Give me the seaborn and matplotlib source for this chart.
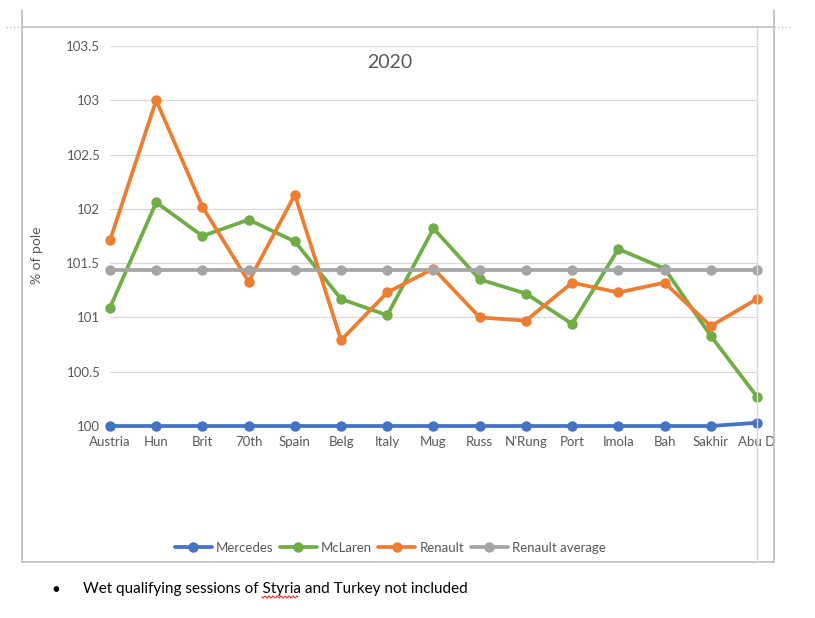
import matplotlib
matplotlib.use("Agg")
import matplotlib.pyplot as plt
import seaborn as sns
import pandas as pd
import numpy as np
from matplotlib.lines import Line2D

races = ["Austria", "Hun", "Brit", "70th", "Spain", "Belg", "Italy", "Mug",
         "Russ", "N'Rung", "Port", "Imola", "Bah", "Sakhir", "Abu D"]
mercedes = [100, 100, 100, 100, 100, 100, 100, 100, 100, 100, 100, 100, 100, 100, 100.03]
mclaren = [101.09, 102.06, 101.75, 101.90, 101.70, 101.17, 101.02, 101.82,
           101.35, 101.22, 100.94, 101.63, 101.45, 100.83, 100.27]
renault = [101.71, 103.00, 102.02, 101.33, 102.13, 100.79, 101.23, 101.45,
           101.00, 100.97, 101.32, 101.23, 101.32, 100.92, 101.17]
renault_avg = [101.44] * 15
series_names = ["Mercedes", "McLaren", "Renault", "Renault average"]
yticks = [100, 100.5, 101, 101.5, 102, 102.5, 103, 103.5]

colors = ["#4472C4", "#70AD47", "#ED7D31", "#A5A5A5"]

rows = []
for name, vals in zip(series_names, [mercedes, mclaren, renault, renault_avg]):
    for i, v in enumerate(vals):
        rows.append({"pos": i, "race": races[i], "team": name, "value": v})
df = pd.DataFrame(rows)

sns.set_theme(style="white")
plt.rcParams['font.family'] = ['Lato', 'DejaVu Sans']

fig = plt.figure(figsize=(8.15, 6.18), dpi=100)
ax = fig.add_axes([110/815, 1-426/618, (757-110)/815, (426-46)/618])

sns.lineplot(data=df, x="pos", y="value", hue="team", hue_order=series_names,
             palette=colors, marker="o", markersize=7.5, markeredgewidth=0,
             linewidth=2.7, ax=ax, legend=False, clip_on=False)

ax.set_xlim(0, 14)
ax.set_ylim(100, 103.5)
ax.set_yticks(yticks)
ax.set_yticklabels([f"{t:g}" for t in yticks])
ax.set_xticks(range(len(races)))
ax.set_xticklabels(races)
ax.tick_params(axis="both", length=0, labelsize=9.5, labelcolor="#595959")
ax.tick_params(axis="y", pad=7)
ax.tick_params(axis="x", pad=7)
ax.grid(axis="y", color="#D9D9D9", linewidth=0.9)
ax.set_axisbelow(True)
for s in ax.spines.values():
    s.set_visible(False)
ax.set_xlabel("")
ax.set_ylabel("% of pole", fontsize=10, color="#595959")
ax.yaxis.set_label_coords(-(110-43)/647, (426-255)/380)

fig.text(390/815, 1-62/618, "2020", fontsize=14, color="#595959", ha="center", va="center")

handles = [Line2D([0], [0], color=c, lw=2.7, marker="o", markersize=7.5, markeredgewidth=0)
           for c in colors]
leg = fig.legend(handles, series_names, loc="center", bbox_to_anchor=(390/815, 1-548/618),
                 ncol=4, frameon=False, fontsize=9.5, handlelength=2.8, columnspacing=0.5,
                 handletextpad=0.3)
for t in leg.get_texts():
    t.set_color("#595959")

# chart frame and page lines
def fline(xs, ys, color="#BFBFBF", lw=1.2, ls="-"):
    fig.add_artist(Line2D([x/815 for x in xs], [1-y/618 for y in ys],
                          color=color, lw=lw, ls=ls, transform=fig.transFigure))

fline([22, 774], [27, 27])
fline([22, 22], [10, 562])
fline([774, 774], [10, 562])
fline([22, 774], [562, 562])
fline([757, 757], [28, 562], color="#D9D9D9", lw=1.0)
fline([6, 22], [27, 27], color="#BFBFBF", lw=1.0, ls=":")
fline([774, 790], [27, 27], color="#BFBFBF", lw=1.0, ls=":")

fig.text(56/815, 1-590/618, "\u2022", fontsize=11, color="black", ha="center", va="center")
fig.text(83/815, 1-589/618, "Wet qualifying sessions of Styria and Turkey not included",
         fontsize=11, color="black", ha="left", va="center")

# spell-check squiggle under "Styria"
xs = np.linspace(262, 298, 30)
ys = 597 + 1.2*np.sin((xs-262)/2.0*np.pi)
fline(xs, ys, color="#E03030", lw=0.8)

fig.savefig("out.png", dpi=100)
